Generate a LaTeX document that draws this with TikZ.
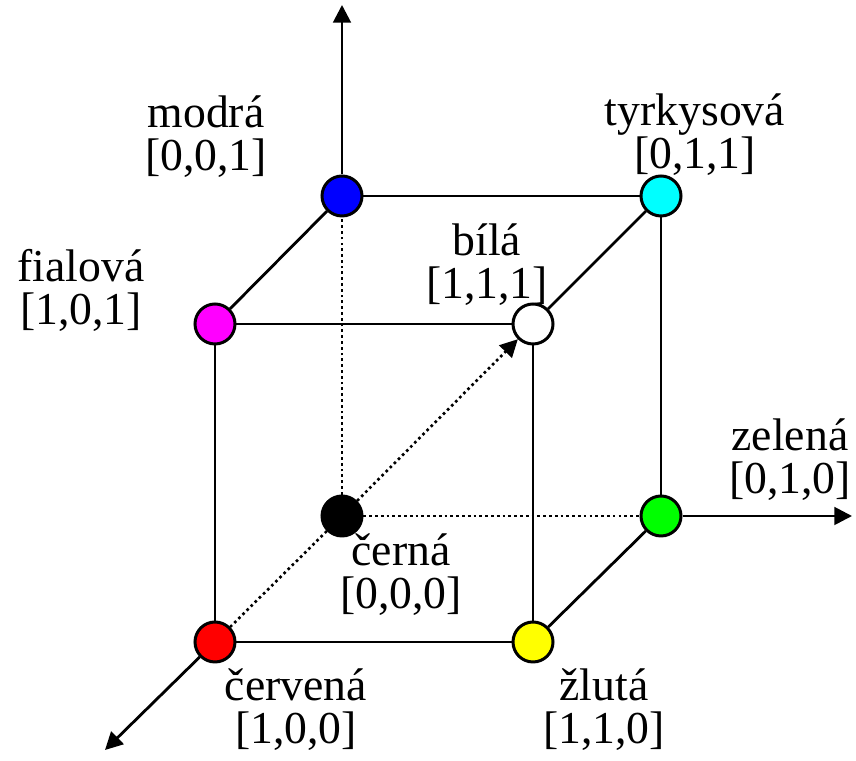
\documentclass[tikz,border=0pt]{standalone}
\usepackage{fontspec}
\setmainfont{Liberation Serif}
\usepackage{tikz}
\usetikzlibrary{arrows.meta}

\definecolor{cmodra}{RGB}{0,0,255}
\definecolor{ctyrkys}{RGB}{0,255,255}
\definecolor{cfialova}{RGB}{255,0,255}
\definecolor{czelena}{RGB}{0,255,0}
\definecolor{ccervena}{RGB}{255,0,0}
\definecolor{czluta}{RGB}{255,255,0}

\begin{document}
\begin{tikzpicture}[
			% vrcholy krychle
			vertex/.style={circle, draw, line width=1.7pt, minimum size=0.8cm, inner sep=0pt},
			edge/.style={line width=1.6pt, black},
			hidden/.style={line width=1.5pt, black, dash pattern=on 1.5pt off 1.8pt},
			myarrow/.style={-{Triangle[length=10pt, width=10pt]}},
			lbl/.style={align=center, inner sep=0pt, font=\fontsize{26}{24.4}\selectfont}
			]
			\useasboundingbox (-6.84,-4.9) rectangle (10.28,10.32);
			
			\node[vertex, fill=black] (cerna) at (0,0) {};
			\node[vertex, fill=czelena] (zelena) at (6.38,0) {};
			\node[vertex, fill=cmodra] (modra) at (0,6.4) {};
			\node[vertex, fill=ctyrkys] (tyrkysova) at (6.38,6.4) {};
			\node[vertex, fill=ccervena] (cervena) at (-2.54,-2.52) {};
			\node[vertex, fill=czluta] (zluta) at (3.82,-2.52) {};
			\node[vertex, fill=cfialova] (fialova) at (-2.54,3.84) {};
			\node[vertex, fill=white] (bila) at (3.82,3.84) {};
			
			% konce os
			\coordinate (osaz) at (0,10.22);
			\coordinate (osay) at (10.2,0);
			\coordinate (osax) at (-4.74,-4.68);
			
			% hrany krychle
			\draw[edge] (modra) -- (tyrkysova);
			\draw[edge] (tyrkysova) -- (zelena);
			\draw[edge] (modra) -- (fialova);
			\draw[edge] (tyrkysova) -- (bila);
			\draw[edge] (zelena) -- (zluta);
			\draw[edge] (fialova) -- (bila);
			\draw[edge] (fialova) -- (cervena);
			\draw[edge] (bila) -- (zluta);
			\draw[edge] (cervena) -- (zluta);
			
			% skryte hrany
			\draw[hidden] (cerna) -- (modra);
			\draw[hidden] (cerna) -- (zelena);
			\draw[hidden] (cerna) -- (cervena);
			\draw[hidden, myarrow] (cerna) -- (bila);
			
			% osy
			\draw[edge, myarrow] (modra) -- (osaz);
			\draw[edge, myarrow] (zelena) -- (osay);
			\draw[edge, myarrow] (cervena) -- (osax);
			
			\node[lbl] (lmodra) at (-2.72,7.58) {modrá\\{[0,0,1]}};
			\node[lbl] (ltyrkysova) at (7.06,7.62) {tyrkysová\\{[0,1,1]}};
			\node[lbl] (lbila) at (2.9,5.02) {bílá\\{[1,1,1]}};
			\node[lbl] (lfialova) at (-5.22,4.52) {fialová\\{[1,0,1]}};
			\node[lbl] (lzelena) at (8.96,1.12) {zelená\\{[0,1,0]}};
			\node[lbl] (lcerna) at (1.18,-1.18) {černá\\{[0,0,0]}};
			\node[lbl] (lcervena) at (-0.92,-3.88) {červená\\{[1,0,0]}};
			\node[lbl] (lzluta) at (5.24,-3.88) {žlutá\\{[1,1,0]}};
			
		\end{tikzpicture}
\end{document}
